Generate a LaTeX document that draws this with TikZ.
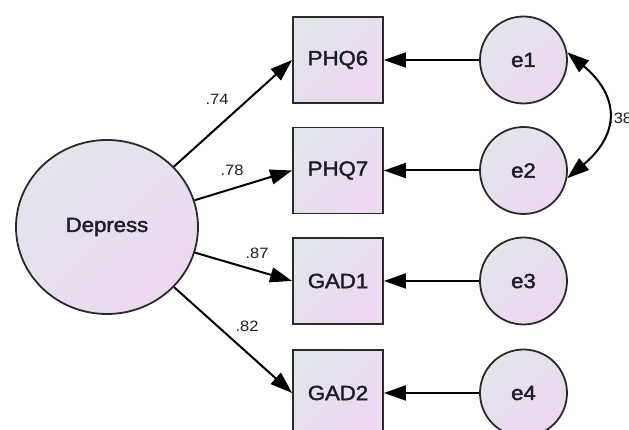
\documentclass[tikz,border=0pt]{standalone}
\usepackage{fontspec}
\setmainfont{Liberation Sans}[FakeStretch=1.1]
\newfontfamily\nodefont{Liberation Sans}[FakeStretch=1.08, FakeBold=2]
\usetikzlibrary{shapes.geometric,arrows.meta}
\definecolor{fillA}{HTML}{E3E5ED}
\definecolor{fillB}{HTML}{EDD7F1}
\definecolor{edgec}{HTML}{2A2A2A}
\definecolor{txt}{HTML}{1E1E28}
\tikzset{
  grad/.style={top color=fillA, bottom color=fillB, shading angle=45},
  nfont/.style={font=\nodefont\fontsize{20.5}{20.5}\selectfont, text=txt},
  obsbox/.style={draw=edgec, line width=1.8pt, grad, rectangle, minimum width=90pt, minimum height=86pt, inner sep=0pt, nfont},
  errc/.style={draw=edgec, line width=1.8pt, grad, circle, minimum size=87pt, inner sep=0pt, nfont},
  latent/.style={draw=edgec, line width=1.8pt, grad, ellipse, minimum width=182pt, minimum height=174pt, inner sep=0pt, nfont},
  path/.style={line width=2pt, -{Triangle[length=22pt,width=15pt]}},
  cov/.style={line width=2pt, {Triangle[length=22pt,width=15pt]}-{Triangle[length=22pt,width=15pt]}},
  lab/.style={font=\fontsize{15}{15}\selectfont, text=txt, inner sep=0pt}
}
\begin{document}
\begin{tikzpicture}[x=1pt,y=1pt]
\useasboundingbox (0,0) rectangle (629,430);
\node[latent] (D) at (107,203) {Depress};
\node[obsbox] (P6) at (338,370) {PHQ6};
\node[obsbox] (P7) at (338,259.5) {PHQ7};
\node[obsbox] (G1) at (338,149) {GAD1};
\node[obsbox] (G2) at (338,37) {GAD2};
\node[errc] (e1) at (523.5,370) {e1};
\node[errc] (e2) at (523.5,259.5) {e2};
\node[errc] (e3) at (523.5,149) {e3};
\node[errc] (e4) at (523.5,37) {e4};
\draw[path] (D) -- (P6.west);
\draw[path] (D) -- (P7.west);
\draw[path] (D) -- (G1.west);
\draw[path] (D) -- (G2.west);
\draw[path] (e1) -- (P6);
\draw[path] (e2) -- (P7);
\draw[path] (e3) -- (G1);
\draw[path] (e4) -- (G2);
\draw[cov] (e1.10) to[out=-40, in=40, looseness=1.4] (e2.-10);
\node[lab] (l1) at (217,331) {.74};
\node[lab] (l2) at (232,260) {.78};
\node[lab] (l3) at (257,177) {.87};
\node[lab] (l4) at (247,104) {.82};
\node[lab, anchor=west] (l5) at (609,312) {.38};
\end{tikzpicture}
\end{document}
